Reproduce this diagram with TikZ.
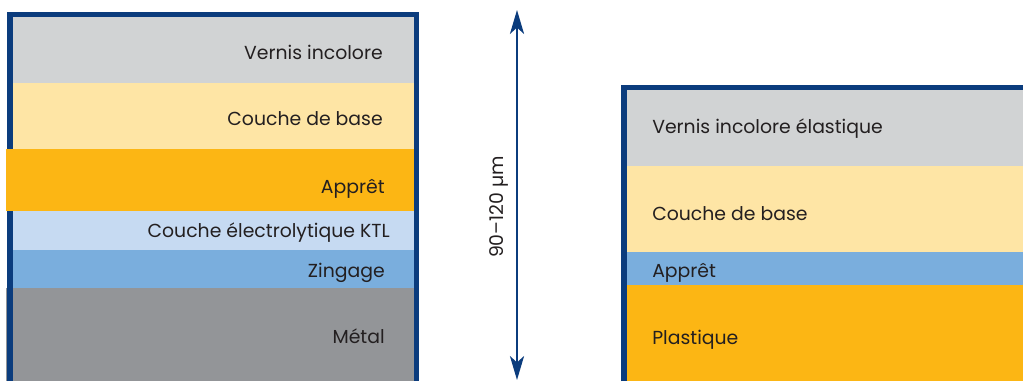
\documentclass[tikz,border=0pt]{standalone}
\usepackage{fontspec}
\setmainfont{Poppins}
\usetikzlibrary{arrows.meta, positioning}

\definecolor{frameblue}{HTML}{0B3C7D}
\definecolor{clearcoat}{HTML}{D1D3D4}
\definecolor{basecoat}{HTML}{FEE5A5}
\definecolor{primer}{HTML}{FCB614}
\definecolor{ktl}{HTML}{C6DAF2}
\definecolor{zinc}{HTML}{7AAEDD}
\definecolor{metal}{HTML}{939598}
\definecolor{textgray}{HTML}{231F20}

\begin{document}
\begin{tikzpicture}[x=0.025cm, y=-0.025cm,
        lbl/.style={font=\fontsize{13.4}{15}\selectfont, text=textgray, inner sep=0pt},
        lblr/.style={lbl, anchor=base east},
        lbll/.style={lbl, anchor=base west},
        frame/.style={draw=frameblue, line width=3.8pt}]
        \useasboundingbox (0,0) rectangle (1023,381);

        % Layers, metal part
        \fill[clearcoat] (10,14) rectangle (417,83);
        \fill[basecoat] (10,83) rectangle (417,149);
        \fill[ktl] (10,211) rectangle (417,250);
        \fill[zinc] (10,250) rectangle (417,288);
        \fill[metal] (6,288) rectangle (417,381);
        \draw[frame] (10,381) -- (10,14.7) -- (416.7,14.7) -- (416.7,381);
        \fill[primer] (6,149) rectangle (414,211);

        % Layers, plastic part
        \fill[clearcoat] (624,87) rectangle (1023,166);
        \fill[basecoat] (624,166) rectangle (1023,252);
        \fill[zinc] (624,252) rectangle (1023,285);
        \fill[primer] (624,285) rectangle (1023,381);
        \draw[frame] (624,381) -- (624,87.2) -- (1023,87.2);

        % Nodes
        \node (m-clear) [lblr] at (383,60) {Vernis incolore};
        \node (m-base) [lblr] at (383,125) {Couche de base};
        \node (m-primer) [lblr] at (385,193) {Apprêt};
        \node (m-ktl) [lblr] at (390,237) {Couche électrolytique KTL};
        \node (m-zinc) [lblr] at (385,277) {Zingage};
        \node (m-metal) [lblr] at (385,343) {Métal};

        \node (p-clear) [lbll] at (652,133) {Vernis incolore élastique};
        \node (p-base) [lbll] at (652,220) {Couche de base};
        \node (p-primer) [lbll] at (652,277) {Apprêt};
        \node (p-plastic) [lbll] at (652,344) {Plastique};

        % Arrows
        \coordinate (top) at (517,10);
        \coordinate (bottom) at (517,380);
        \draw[{Stealth[length=17pt, width=10pt, inset=4.5pt]}-{Stealth[length=17pt, width=10pt, inset=4.5pt]}, draw=frameblue, fill=frameblue, line width=1.6pt] (top) -- (bottom);
        \node (span) [lbl, rotate=90] at (499,207) {90–120 µm};
    \end{tikzpicture}
\end{document}
